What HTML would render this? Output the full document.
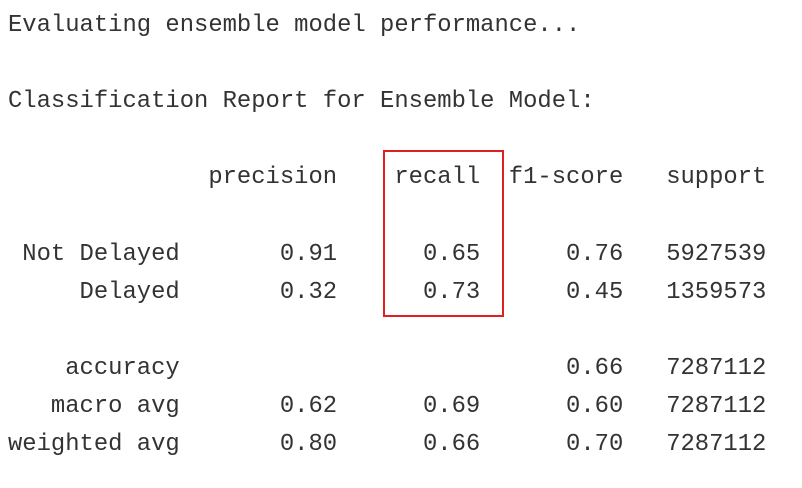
<!DOCTYPE html>
<html>
<head>
<meta charset="utf-8">
<style>
  html, body { margin: 0; padding: 0; background: #ffffff; }
  body { width: 802px; height: 488px; position: relative; overflow: hidden; }
  pre {
    position: absolute; left: 8px; top: 7px; margin: 0;
    font-family: "Liberation Mono", "DejaVu Sans Mono", monospace;
    font-size: 23.85px; line-height: 38.1px; color: #333333;
  }
  .box {
    position: absolute; left: 383px; top: 150px; width: 117px; height: 163px;
    border: 2px solid #e02020; box-sizing: content-box;
  }
</style>
</head>
<body>
<pre>Evaluating ensemble model performance...

Classification Report for Ensemble Model:

              precision    recall  f1-score   support

 Not Delayed       0.91      0.65      0.76   5927539
     Delayed       0.32      0.73      0.45   1359573

    accuracy                           0.66   7287112
   macro avg       0.62      0.69      0.60   7287112
weighted avg       0.80      0.66      0.70   7287112</pre>
<div class="box"></div>
</body>
</html>
